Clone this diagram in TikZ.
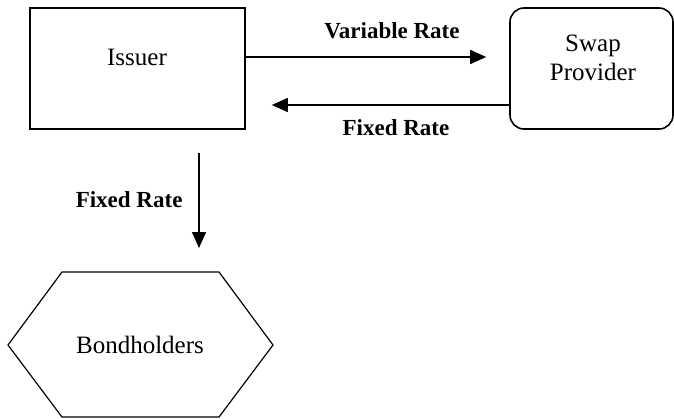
\documentclass[tikz,border=0pt]{standalone}
\usepackage{fontspec}
\setmainfont{Liberation Serif}
\usetikzlibrary{arrows.meta}
\begin{document}
\begin{tikzpicture}[x=1pt,y=-1pt,
  boxline/.style={draw=black,line width=1.6pt,inner sep=0pt},
  nodetext/.style={font=\fontsize{25}{29}\selectfont,align=center},
  flowlabel/.style={font=\fontsize{23}{27}\selectfont\bfseries},
  flow/.style={line width=1.5pt,-{Triangle[length=16pt,width=14pt]}}]
\useasboundingbox (0,0) rectangle (674,418);
% Issuer box
\node[boxline,minimum width=215pt,minimum height=121pt] (issuerbox) at (137.5,68.5) {};
\node[nodetext] (issuer) at (137,57) {Issuer};
% Swap provider box
\node[boxline,rounded corners=14pt,minimum width=163pt,minimum height=121pt] (swapbox) at (591.5,68.5) {};
\node[nodetext] (swap) at (593,58) {Swap\\Provider};
% Hexagon
\draw[line width=1.2pt] (8,345) -- (62,272) -- (219,272) -- (273,345) -- (219,417) -- (62,417) -- cycle;
\node[nodetext] (bond) at (140,345) {Bondholders};
\coordinate (bondtop) at (199,272);
% connectors
\draw[flow] (issuerbox.east |- issuer.center) -- ([xshift=-23pt]swapbox.west |- issuer.center);
\draw[flow] ([yshift=-36.5pt]swapbox.west) -- ([xshift=26pt,yshift=-36.5pt]issuerbox.east);
\draw[flow] ([yshift=-23pt]issuerbox.south -| bondtop) -- ([yshift=24pt]bondtop);
\node[flowlabel,anchor=base] (l1) at (392,38) {Variable Rate};
\node[flowlabel,anchor=base] (l2) at (396,135) {Fixed Rate};
\node[flowlabel,anchor=base east] (l3) at (186,207) {Fixed Rate};
\end{tikzpicture}
\end{document}
